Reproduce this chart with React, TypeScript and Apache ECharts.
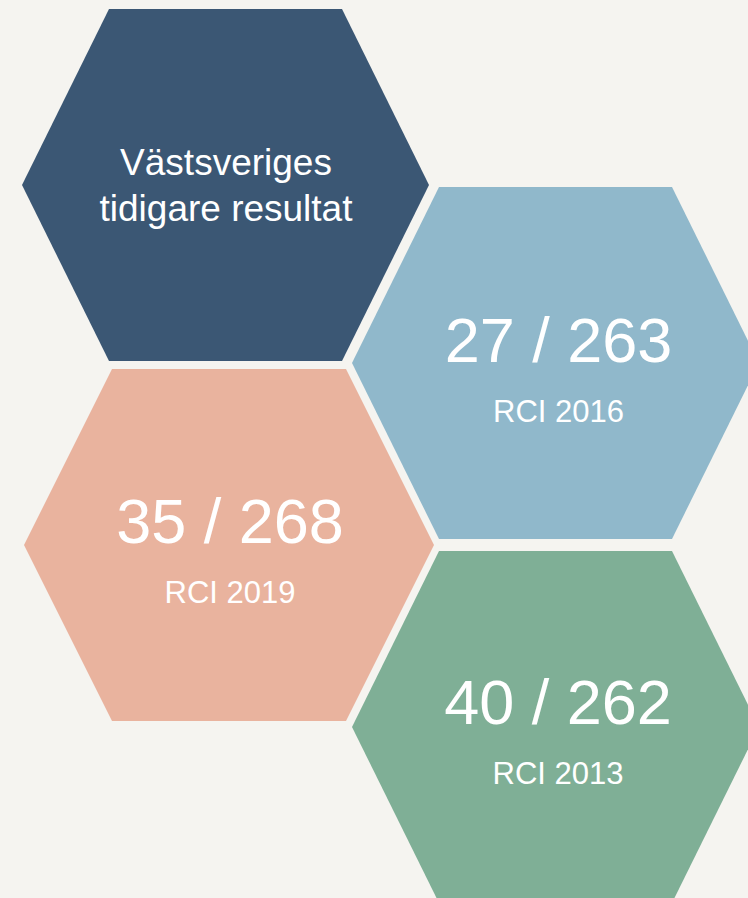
import React, { useEffect, useRef } from "react";
import * as echarts from "echarts";

const titleLines = ["Västsveriges", "tidigare resultat"];
const ranks = [27, 35, 40];
const totals = [263, 268, 262];
const years = [2016, 2019, 2013];

const FONT = "'Liberation Sans', Arial, Helvetica, sans-serif";

function hex(cx: number, cy: number, hw: number, hh: number, inset: number) {
  return [
    [cx - hw + inset, cy - hh],
    [cx + hw - inset, cy - hh],
    [cx + hw, cy],
    [cx + hw - inset, cy + hh],
    [cx - hw + inset, cy + hh],
    [cx - hw, cy],
  ];
}

export default function App() {
  const ref = useRef<HTMLDivElement>(null);
  useEffect(() => {
    if (!ref.current) return;
    const chart = echarts.init(ref.current, null, { renderer: "svg" });

    const hexes = [
      { cx: 225.5, cy: 185, hw: 203.5, hh: 176, inset: 87, color: "#3b5774" },
      { cx: 555.5, cy: 363, hw: 203.5, hh: 176, inset: 87, color: "#90b8cb" },
      { cx: 229, cy: 545, hw: 205, hh: 176, inset: 88, color: "#e9b39e" },
      { cx: 555.5, cy: 727, hw: 203.5, hh: 176, inset: 87, color: "#7faf96" },
    ];

    const valuePos = [
      { x: 558.5, y: 340, sy: 411 },
      { x: 230, y: 521, sy: 592 },
      { x: 558, y: 702, sy: 773 },
    ];

    const elements: any[] = [];
    hexes.forEach((h) => {
      elements.push({
        type: "polygon",
        shape: { points: hex(h.cx, h.cy, h.hw, h.hh, h.inset) },
        style: { fill: h.color },
        silent: true,
      });
    });

    const titleY = [162.5, 208];
    titleLines.forEach((t, i) => {
      elements.push({
        type: "text",
        x: 226,
        y: titleY[i],
        style: {
          text: t,
          fill: "#ffffff",
          font: `37px ${FONT}`,
          textAlign: "center",
          textVerticalAlign: "middle",
        },
      });
    });

    ranks.forEach((r, i) => {
      const p = valuePos[i];
      elements.push({
        type: "text",
        x: p.x,
        y: p.y,
        style: {
          text: `${r} / ${totals[i]}`,
          fill: "#ffffff",
          font: `63px ${FONT}`,
          textAlign: "center",
          textVerticalAlign: "middle",
        },
      });
      elements.push({
        type: "text",
        x: p.x,
        y: p.sy,
        style: {
          text: `RCI ${years[i]}`,
          fill: "#ffffff",
          font: `31px ${FONT}`,
          textAlign: "center",
          textVerticalAlign: "middle",
        },
      });
    });

    chart.setOption({
      animation: false,
      backgroundColor: "#f5f4f0",
      graphic: { elements },
    });
    return () => chart.dispose();
  }, []);

  return (
    <div
      ref={ref}
      style={{ position: "fixed", left: 0, top: 0, width: 748, height: 898 }}
    />
  );
}
